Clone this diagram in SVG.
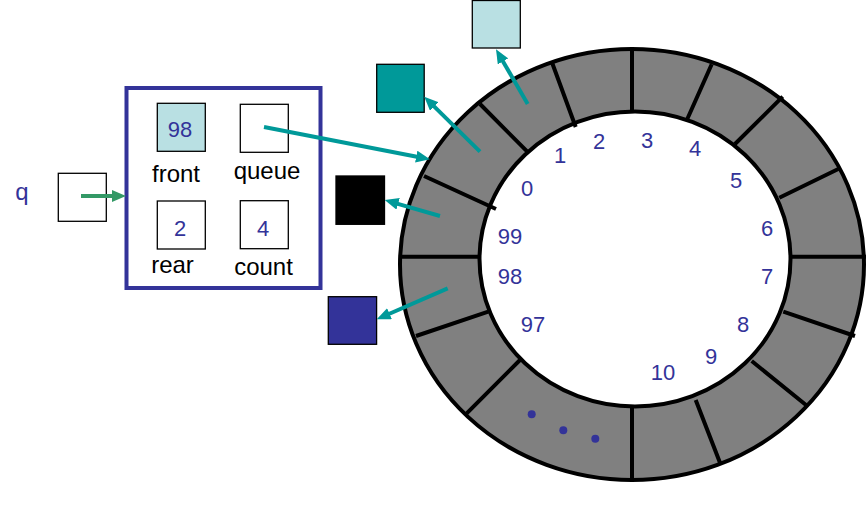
<svg xmlns="http://www.w3.org/2000/svg" width="866" height="510" viewBox="0 0 866 510">
<defs>
<style>
.lbl{font-family:"Liberation Sans",Arial,sans-serif;font-size:24px;fill:#000;text-anchor:middle}
.num{font-family:"Liberation Sans",Arial,sans-serif;font-size:22px;fill:#333399;text-anchor:middle}
.box{fill:#fff;stroke:#000;stroke-width:1.3}
.div{stroke:#000;stroke-width:4;fill:none}
.ptr{stroke:#009999;stroke-width:4;fill:none;marker-end:url(#ah)}
</style>
<marker id="ah" markerUnits="userSpaceOnUse" markerWidth="14" markerHeight="12" refX="2" refY="6" orient="auto">
<path d="M0,0 L14,6 L0,12 z" fill="#009999"/>
</marker>
<marker id="ahg" markerUnits="userSpaceOnUse" markerWidth="14" markerHeight="12" refX="2" refY="6" orient="auto">
<path d="M0,0 L14,6 L0,12 z" fill="#339966"/>
</marker>
</defs>
<rect width="866" height="510" fill="#fff"/>
<g id="ring">
<ellipse cx="632" cy="264.5" rx="232" ry="215.5" fill="#808080" stroke="#000" stroke-width="4"/>
<ellipse cx="635" cy="259" rx="155.5" ry="147.5" fill="#fff" stroke="#000" stroke-width="4"/>
<path class="div" d="M632,49 V112 M552.3,63.3 L575.7,127 M480,104 L528.3,152.7 M424,176 L496,209 M400,256.7 H480 M711.7,64.3 L687.3,119 M782.7,96.7 L735,144 M838.3,169 L779.3,197.7 M790,256.7 H866 M416,336 L488.3,311.7 M466.7,413.3 L520,360 M632,480 V406.7 M720,462.7 L695.7,400 M806,405 L751.7,361 M855,336 L783.3,311.7"/>
<circle cx="531.7" cy="414.3" r="4" fill="#333399"/>
<circle cx="563.3" cy="430.3" r="4" fill="#333399"/>
<circle cx="595.3" cy="438.7" r="4" fill="#333399"/>
<text class="num" x="527" y="195.5">0</text>
<text class="num" x="560" y="163">1</text>
<text class="num" x="599" y="148.5">2</text>
<text class="num" x="647" y="148">3</text>
<text class="num" x="695" y="156">4</text>
<text class="num" x="736" y="188">5</text>
<text class="num" x="767" y="236">6</text>
<text class="num" x="767" y="284">7</text>
<text class="num" x="743" y="332">8</text>
<text class="num" x="711" y="364">9</text>
<text class="num" x="663" y="380">10</text>
<text class="num" x="533" y="332">97</text>
<text class="num" x="510" y="284">98</text>
<text class="num" x="510" y="244">99</text>
</g>
<g id="q">
<text x="22" y="199.5" style="font-family:'Liberation Sans',Arial,sans-serif;font-size:24px;fill:#333399;text-anchor:middle">q</text>
<rect class="box" x="58.3" y="173.3" width="48" height="48"/>
</g>
<g id="struct">
<rect x="126.5" y="88" width="194" height="200" fill="#fff" stroke="#333399" stroke-width="4"/>
</g>
<g id="front">
<rect x="157.3" y="103.3" width="48" height="48" fill="#b9e0e3" stroke="#000" stroke-width="1.3"/>
<text class="num" x="180" y="137">98</text>
<text class="lbl" x="176" y="181.7">front</text>
</g>
<g id="queue">
<rect class="box" x="240.3" y="104.3" width="48" height="48"/>
<text class="lbl" x="267" y="179.3">queue</text>
</g>
<g id="rear">
<rect class="box" x="157.3" y="201" width="48" height="48"/>
<text class="num" x="180" y="236">2</text>
<text class="lbl" x="172.5" y="273.3">rear</text>
</g>
<g id="count">
<rect class="box" x="240.3" y="200.7" width="48" height="48"/>
<text class="num" x="263" y="236">4</text>
<text class="lbl" x="263.5" y="275">count</text>
</g>
<g id="lightblue"><rect x="472.3" y="0.5" width="48" height="47.5" fill="#b9e0e3" stroke="#000" stroke-width="1.3"/></g>
<g id="teal"><rect x="376.7" y="64.3" width="47.5" height="48" fill="#009999" stroke="#000" stroke-width="1.3"/></g>
<g id="black"><rect x="336" y="176" width="48.5" height="48.3" fill="#000" stroke="#000" stroke-width="1.3"/></g>
<g id="navy"><rect x="328.3" y="296.7" width="48.3" height="47.6" fill="#333399" stroke="#000" stroke-width="1.3"/></g>
<g id="connectors">
<line x1="81" y1="196" x2="114" y2="196" stroke="#339966" stroke-width="4" marker-end="url(#ahg)"/>
<line class="ptr" x1="264" y1="127" x2="418.2" y2="157"/>
<line class="ptr" x1="480" y1="151.7" x2="432.8" y2="105.1"/>
<line class="ptr" x1="527.7" y1="104" x2="502" y2="59.7"/>
<line class="ptr" x1="440" y1="216" x2="396.2" y2="203.3"/>
<line class="ptr" x1="447.7" y1="288.3" x2="387.7" y2="314.5"/>
</g>
</svg>
